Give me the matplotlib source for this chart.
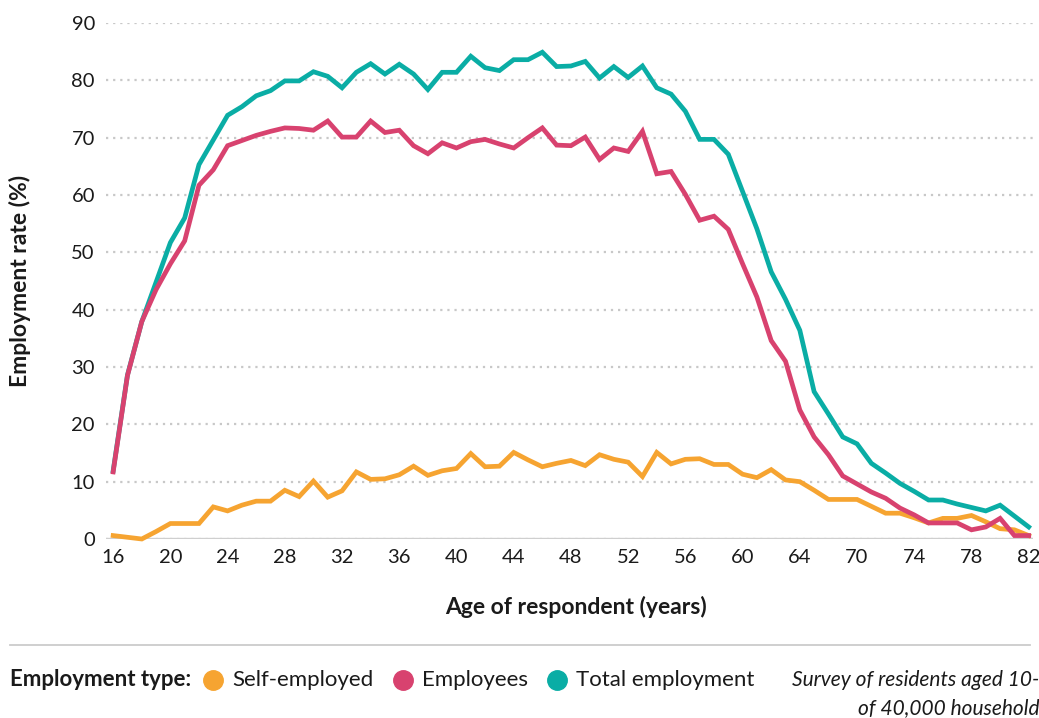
import numpy as np
import matplotlib
matplotlib.use('Agg')
import matplotlib.pyplot as plt
from matplotlib.lines import Line2D

plt.rcParams['font.family'] = ['Lato', 'DejaVu Sans']

# ages on the axis (categorical, a couple of ages are not in the survey)
ages = list(range(16, 68)) + list(range(70, 83))

self_employed = [0.6, 0.3, 0.0, 1.3, 2.7, 2.7, 2.7, 5.6, 4.9, 5.9,
                 6.6, 6.6, 8.5, 7.4, 10.1, 7.3, 8.4, 11.7, 10.4, 10.5,
                 11.2, 12.7, 11.1, 11.9, 12.3, 14.9, 12.6, 12.7, 15.1, 13.8,
                 12.6, 13.2, 13.7, 12.8, 14.7, 13.9, 13.4, 10.9, 15.1, 13.1,
                 13.9, 14.0, 13.0, 13.0, 11.3, 10.7, 12.1, 10.3, 10.0, 8.5,
                 6.9, 6.9, 6.9, 5.7, 4.5, 4.5, 3.7, 2.8, 3.6, 3.6,
                 4.1, 3.0, 1.8, 1.6, 0.6]

employees = [11.7, 28.5, 37.9, 43.5, 48.0, 52.0, 61.7, 64.4, 68.6, 69.5,
             70.4, 71.1, 71.7, 71.6, 71.3, 72.9, 70.1, 70.1, 72.9, 70.9,
             71.3, 68.6, 67.2, 69.1, 68.2, 69.3, 69.7, 68.9, 68.2, 70.0,
             71.7, 68.7, 68.6, 70.1, 66.2, 68.2, 67.6, 71.1, 63.7, 64.1,
             60.1, 55.6, 56.3, 54.0, 48.0, 42.2, 34.6, 31.0, 22.5, 17.8,
             14.7, 11.0, 9.6, 8.2, 7.1, 5.4, 4.2, 2.8, 2.8, 2.8,
             1.6, 2.1, 3.6, 0.6, 0.6]

total = [11.9, 28.6, 37.9, 44.8, 51.7, 56.0, 65.3, 69.6, 73.9, 75.4,
         77.3, 78.2, 79.9, 79.9, 81.5, 80.7, 78.7, 81.4, 82.9, 81.1,
         82.8, 81.1, 78.4, 81.4, 81.4, 84.2, 82.2, 81.7, 83.6, 83.6,
         84.9, 82.4, 82.5, 83.3, 80.4, 82.4, 80.5, 82.5, 78.7, 77.6,
         74.6, 69.7, 69.7, 67.1, 60.6, 54.1, 46.6, 41.8, 36.4, 25.7,
         21.8, 17.8, 16.6, 13.2, 11.5, 9.7, 8.3, 6.8, 6.8, 6.1,
         5.5, 4.9, 5.9, 4.0, 2.1]

series_names = ['Self-employed', 'Employees', 'Total employment']
colors = ['#f6a431', '#d8426f', '#0aada5']

W, H = 1039, 718
fig = plt.figure(figsize=(W / 100, H / 100), dpi=100)
ax = fig.add_axes([106 / W, (H - 539) / H, (1033 - 106) / W, (539 - 23) / H])

x = np.arange(len(ages))
# draw order: total underneath, then self-employed, employees on top
ax.plot(x, total, color=colors[2], lw=3.4, solid_joinstyle='miter', clip_on=False, zorder=3)
ax.plot(x, self_employed, color=colors[0], lw=3.4, solid_joinstyle='miter', clip_on=False, zorder=4)
ax.plot(x, employees, color=colors[1], lw=3.4, solid_joinstyle='miter', clip_on=False, zorder=5)

ax.set_xlim(-0.5, 64.3)
ax.set_ylim(0, 90)
ax.set_yticks(range(0, 100, 10))
ax.set_xticks(x[::4])
ax.set_xticklabels([str(a) for a in ages[::4]])
ax.yaxis.grid(True, linestyle=(0, (1, 2.2)), color='#c8c8c8', lw=1.6)
ax.set_axisbelow(True)
ax.axhline(0, color='#cfcfcf', lw=2.4, zorder=2)
for s in ax.spines.values():
    s.set_visible(False)
ax.tick_params(length=0, labelsize=14.5, colors='#1a1a1a')
ax.tick_params(axis='y', pad=8)
ax.tick_params(axis='x', pad=7)

ax.set_ylabel('Employment rate (%)', fontsize=16.5, fontweight='bold', color='#1a1a1a')
ax.yaxis.set_label_coords((31 - 106) / 927, 0.5)
ax.set_xlabel('Age of respondent (years)', fontsize=16.5, fontweight='bold', color='#1a1a1a')
ax.xaxis.set_label_coords((576 - 106) / 927, (539 - 596) / 516)

# separator and legend row
fig.add_artist(Line2D([10 / W, 1030 / W], [1 - 645 / H] * 2, color='#cccccc', lw=1.3))
ly = 1 - 680 / H
fig.text(10 / W, ly, 'Employment type:', fontsize=16, fontweight='bold', va='center', color='#1a1a1a')
marker_x = [213, 403, 557]
for mx, name, c in zip(marker_x, series_names, colors):
    fig.add_artist(Line2D([mx / W], [ly], marker='o', markersize=14, color=c,
                          lw=0, transform=fig.transFigure))
    fig.text((mx + 19) / W, ly, name, fontsize=16, va='center', color='#1a1a1a')

fig.text(1039 / W, ly, 'Survey of residents aged 10-', fontsize=15, style='italic',
         ha='right', va='center', color='#1a1a1a')
fig.text(1039 / W, 1 - 708 / H, 'of 40,000 household', fontsize=15, style='italic',
         ha='right', va='center', color='#1a1a1a')

fig.savefig('out.png', dpi=100)
